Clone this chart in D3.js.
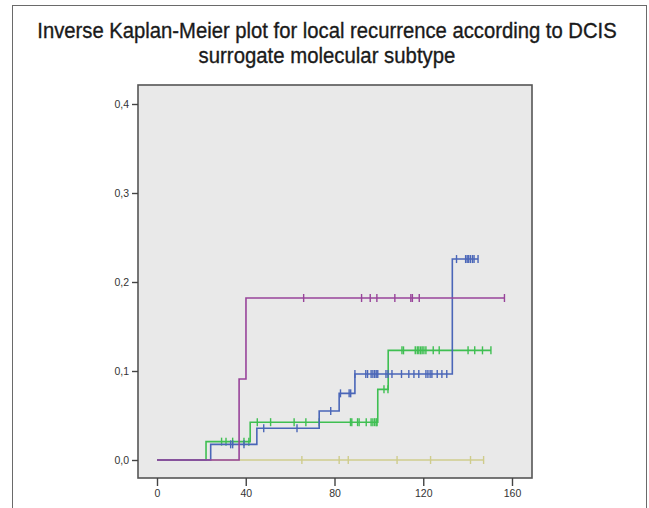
<!DOCTYPE html>
<html>
<head>
<meta charset="utf-8">
<script src="https://cdn.jsdelivr.net/npm/d3@7"></script>
<style>
  html, body { margin: 0; padding: 0; background: #fff; }
  svg { display: block; }
</style>
</head>
<body>
<svg id="chart" width="649" height="508"></svg>
<script>
// Cumulative incidence of local recurrence (1 - KM survival) per DCIS subtype.
// Each step list holds [months, cumulative incidence] at event times.
const titleLines = [
  "Inverse Kaplan-Meier plot for local recurrence according to DCIS",
  "surrogate molecular subtype"
];

const xTicks = [0, 40, 80, 120, 160];
const yTicks = [0, 0.1, 0.2, 0.3, 0.4];

// Olive group: no events
const oliveSteps = [[0, 0]];
const oliveEnd = 147.2;
const oliveCensored = [65.3, 82.1, 86.2, 108.2, 123.3, 141.3, 147.2];

// Green group
const greenSteps = [[0, 0], [22.1, 0.0206], [42.0, 0.0425], [99.5, 0.0794], [104.2, 0.1232]];
const greenEnd = 150.5;
const greenCensored = [29.1, 31.1, 34.1, 39.2, 41.4, 45.2, 51.2, 61.8, 67.1, 73.1, 87.2, 87.8,
  90.4, 91.1, 94.3, 96.5, 97.3, 98.1, 98.8, 99.2, 102.3, 104.1, 110.4, 111.1, 116.4, 117.3,
  118.0, 118.8, 119.5, 120.3, 121.2, 124.5, 127.2, 140.2, 143.2, 146.7, 150.5];

// Blue group
const blueSteps = [[0, 0], [24.2, 0.0176], [45.0, 0.0356], [73.1, 0.055], [82.1, 0.0749],
  [89.2, 0.0966], [133.1, 0.2258]];
const blueEnd = 144.7;
const blueCensored = [33.2, 34.1, 39.2, 48.1, 63.1, 78.3, 82.7, 86.6, 87.3, 89.2, 94.1, 94.9,
  96.5, 97.3, 98.1, 98.8, 99.5, 103.2, 104.1, 105.9, 110.2, 113.5, 115.8, 118.0, 121.2, 122.1,
  123.1, 123.9, 126.3, 128.4, 130.6, 135.0, 139.1, 139.8, 140.5, 141.3, 142.2, 142.9, 144.7];

// Purple group
const purpleSteps = [[0, 0], [37.0, 0.091], [40.1, 0.182]];
const purpleEnd = 156.6;
const purpleCensored = [66.1, 92.2, 96.1, 99.1, 107.2, 114.4, 115.1, 118.2, 156.6];

const groups = [
  { steps: oliveSteps, end: oliveEnd, censored: oliveCensored, color: "#cfcc8c" },
  { steps: greenSteps, end: greenEnd, censored: greenCensored, color: "#3fbf52" },
  { steps: blueSteps, end: blueEnd, censored: blueCensored, color: "#4a66b8" },
  { steps: purpleSteps, end: purpleEnd, censored: purpleCensored, color: "#98449a" }
];

const svg = d3.select("#chart");

// Outer figure frame
svg.append("rect")
  .attr("x", 12.5).attr("y", 5.5)
  .attr("width", 634).attr("height", 520)
  .attr("fill", "none").attr("stroke", "#6a6a6a").attr("stroke-width", 1);

// Title: regular face squeezed horizontally into a condensed look
const titleWidths = [580, 257];
const titleCenter = 327;
svg.append("g").selectAll("text")
  .data(titleLines)
  .join("text")
  .attr("text-anchor", "middle")
  .attr("font-family", "'Liberation Sans', Arial, sans-serif")
  .attr("font-size", 22)
  .attr("fill", "#1a1a1a")
  .attr("stroke", "#1a1a1a")
  .attr("stroke-width", 0.35)
  .text(d => d)
  .each(function (d, i) {
    const natural = this.getComputedTextLength();
    const k = titleWidths[i] / natural;
    d3.select(this)
      .attr("x", 0)
      .attr("y", 0)
      .attr("transform", `translate(${titleCenter},${38 + i * 25}) scale(${k},1)`);
  });

// Plot area
const plot = { left: 138, top: 85, right: 532, bottom: 478 };

const x = d3.scaleLinear().domain([0, 160]).range([157, 512]);
const y = d3.scaleLinear().domain([0, 0.4]).range([460, 104]);

svg.append("rect")
  .attr("x", plot.left).attr("y", plot.top)
  .attr("width", plot.right - plot.left).attr("height", plot.bottom - plot.top)
  .attr("fill", "#e9e9e9");

// Step curves
const line = d3.line().x(d => x(d[0])).y(d => y(d[1])).curve(d3.curveStepAfter);

groups.forEach(g => {
  const pts = g.steps.concat([[g.end, g.steps[g.steps.length - 1][1]]]);
  svg.append("path")
    .datum(pts)
    .attr("d", line)
    .attr("fill", "none")
    .attr("stroke", g.color)
    .attr("stroke-width", 1.6);

  // value of the curve at time t
  const valueAt = t => {
    let v = 0;
    g.steps.forEach(s => { if (s[0] <= t) v = s[1]; });
    return v;
  };
  svg.append("g").selectAll("line")
    .data(g.censored)
    .join("line")
    .attr("x1", d => x(d)).attr("x2", d => x(d))
    .attr("y1", d => y(valueAt(d)) - 4)
    .attr("y2", d => y(valueAt(d)) + 4)
    .attr("stroke", g.color)
    .attr("stroke-width", 1.4);
});

// Plot border
svg.append("rect")
  .attr("x", plot.left).attr("y", plot.top)
  .attr("width", plot.right - plot.left).attr("height", plot.bottom - plot.top)
  .attr("fill", "none").attr("stroke", "#555").attr("stroke-width", 1.6);

// Axes
const yAxis = d3.axisLeft(y)
  .tickValues(yTicks)
  .tickSize(6)
  .tickPadding(3)
  .tickFormat(d => d3.format(".1f")(d).replace(".", ","));
const gy = svg.append("g").attr("transform", `translate(${plot.left},0)`).call(yAxis);

const xAxis = d3.axisBottom(x)
  .tickValues(xTicks)
  .tickSize(8)
  .tickPadding(4)
  .tickFormat(d3.format("d"));
const gx = svg.append("g").attr("transform", `translate(0,${plot.bottom})`).call(xAxis);

[gx, gy].forEach(g => {
  g.select(".domain").remove();
  g.selectAll(".tick line").attr("stroke", "#444").attr("stroke-width", 1.4);
  g.selectAll(".tick text")
    .attr("fill", "#333")
    .attr("font-family", "Arial, 'Liberation Sans', sans-serif")
    .attr("font-size", 10.5);
});
</script>
</body>
</html>
